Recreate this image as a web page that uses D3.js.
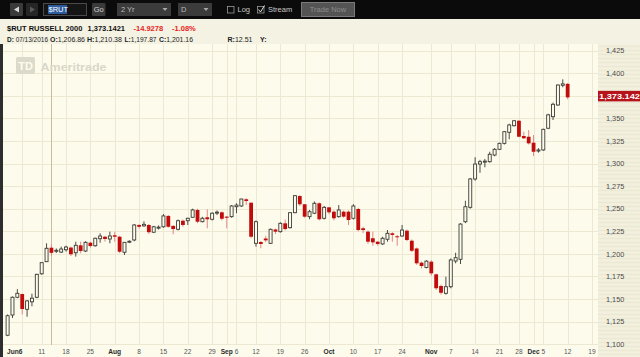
<!DOCTYPE html>
<html>
<head>
<meta charset="utf-8">
<script src="https://cdn.jsdelivr.net/npm/d3@7"></script>
<style>
  html, body { margin: 0; padding: 0; background: #0b0b0b; overflow: hidden; }
  svg { display: block; font-family: "Liberation Sans", Arial, sans-serif; }
</style>
</head>
<body>
<svg id="chart" width="640" height="357"></svg>
<script>
// $RUT daily candles, 2016-06-29 .. 2016-12-12
const dates = [
  "06-29","06-30","07-01","07-05","07-06","07-07","07-08",
  "07-11","07-12","07-13","07-14","07-15","07-18","07-19","07-20","07-21","07-22",
  "07-25","07-26","07-27","07-28","07-29",
  "08-01","08-02","08-03","08-04","08-05","08-08","08-09","08-10","08-11","08-12",
  "08-15","08-16","08-17","08-18","08-19","08-22","08-23","08-24","08-25","08-26",
  "08-29","08-30","08-31",
  "09-01","09-02","09-06","09-07","09-08","09-09","09-12","09-13","09-14","09-15","09-16",
  "09-19","09-20","09-21","09-22","09-23","09-26","09-27","09-28","09-29","09-30",
  "10-03","10-04","10-05","10-06","10-07","10-10","10-11","10-12","10-13","10-14",
  "10-17","10-18","10-19","10-20","10-21","10-24","10-25","10-26","10-27","10-28","10-31",
  "11-01","11-02","11-03","11-04","11-07","11-08","11-09","11-10","11-11",
  "11-14","11-15","11-16","11-17","11-18","11-21","11-22","11-23","11-25",
  "11-28","11-29","11-30",
  "12-01","12-02","12-05","12-06","12-07","12-08","12-09","12-12"
];
const open = [
  1110,1132.4,1152,1155.6,1138.7,1147,1152,
  1178,1191.4,1206.86,1203,1202,1204.6,1207,1201.3,1209.5,1203.2,
  1212.4,1209,1216.8,1219,1216.5,
  1220.6,1219,1201.8,1213,1215.4,1232,1231,1232,1224,1229,
  1230,1242,1231,1227.2,1236.7,1236.7,1240.5,1248.6,1235.6,1240.5,
  1238.3,1245.8,1246,
  1241.2,1241.2,1252.2,1253,1260.4,1256.6,1211.7,1213.2,1217,1211.7,1227,
  1224.6,1233.8,1229,1245.6,1264,1254.9,1241.2,1245,1256,1239.4,
  1251.5,1246.7,1241.2,1246.7,1246.7,1239.4,1249.7,1228.3,1224.6,1217.3,
  1213.5,1211,1216.2,1222.8,1219.5,1219.8,1225.7,1214.6,1206,1190.3,1185,
  1191.4,1177.4,1164.5,1156.4,1163.7,1192.1,1194,1235.6,1251.5,
  1282.9,1299.4,1301.7,1302,1309.4,1315.7,1322.3,1334.5,1341.8,
  1347.3,1330.4,1329.6,
  1323,1313.8,1315,1339,1351.8,1364.7,1386.5,1388.1
];
const high = [
  1133,1153,1161,1156,1149,1156,1178,
  1191,1211.7,1210.38,1206,1208,1209,1208,1213.5,1213.5,1214,
  1213.5,1218,1222.8,1220,1224.6,
  1224.6,1220,1213,1215,1233,1233,1236,1233,1231,1231.5,
  1244,1243,1231.5,1238,1238,1240,1250,1250,1241,1249.3,
  1246,1248,1247,
  1242,1254,1256,1261,1261.5,1257,1237,1214,1220,1228,1228,
  1235,1238,1246,1265,1265,1255,1248.6,1258,1257,1253,
  1252,1248,1254,1248,1248,1255,1251,1230,1226,1224.6,
  1214,1219,1226.4,1224,1221,1232,1227,1216,1207,1191.5,1193,
  1193,1178,1166,1174.8,1195,1201.3,1234,1258.8,1284,
  1306.9,1304,1305,1313,1317,1323,1336,1344,1348,
  1348,1335.2,1337,
  1331.5,1317,1338.5,1355,1367.3,1387.5,1393.1,1389
];
const low = [
  1109,1129,1151,1133,1130.5,1142,1151,
  1177,1191,1197.87,1201,1201,1202.5,1197.7,1197,1200.7,1202,
  1207,1208,1212.4,1213.5,1211.7,
  1213.5,1201,1198.8,1212,1214,1228,1230,1222,1223,1227,
  1229,1229,1221.7,1226,1230,1232,1240,1234,1235,1228.3,
  1237,1243,1237,
  1228.3,1240,1245,1252,1254,1217.5,1208,1206.2,1213,1211,1222,
  1223.5,1226,1228,1245,1253,1240,1238.3,1244,1237,1238,
  1244,1237,1240,1240,1232,1238,1225,1223,1211,1209,
  1209,1210,1213.5,1213.5,1209,1219,1214,1202,1188,1184,1184,
  1176,1160,1155,1155,1162,1189.6,1188.8,1234,1250,
  1281,1289.8,1295.8,1301,1308,1315,1321,1326.8,1341,
  1329,1327,1321,
  1308.3,1312,1314,1338,1348.1,1364,1384.3,1371
];
const close = [
  1131.6,1152,1156.4,1139,1148,1151,1177.4,
  1190.3,1206.2,1201.16,1204,1205.4,1207.6,1199.6,1209.5,1203.2,1212.8,
  1208.7,1217.3,1219.8,1216.5,1219.8,
  1219,1202.4,1212.8,1214,1232,1230,1232.7,1224,1230,1229.6,
  1242,1230,1227.5,1236.7,1232,1239.4,1248.6,1235.6,1239.4,1238.3,
  1245,1246.2,1238.9,
  1240,1253,1254,1260.7,1258.5,1219,1235.6,1211,1215,1227.2,1224.6,
  1233.8,1227.5,1245.6,1264.4,1254.9,1241.2,1246.7,1256,1238.3,1251.5,
  1246,1239.4,1248.6,1241.2,1237.5,1253,1226.4,1226.4,1213.5,1212.8,
  1211,1217.3,1222.8,1221,1218.5,1226.4,1215.4,1203.5,1189.6,1186.6,1192,
  1178.5,1162,1157,1163.7,1193.3,1195.8,1233,1252.2,1282.9,
  1299.4,1302,1302.6,1310.2,1315.7,1322.3,1335.2,1342.6,1347.3,
  1329.6,1327.9,1322.3,
  1313,1315,1337.8,1353.8,1365.5,1386.8,1388.07,1373.1421
];

// price axis ticks
const yTicks = [1100,1125,1150,1175,1200,1225,1250,1275,1300,1325,1350,1375,1400,1425];
// vertical grid lines (candle index, 120 = Dec 19 beyond last bar)
const gridIdx = [3,7,12,17,22,27,32,37,42,45,47,51,56,61,66,71,76,81,87,91,96,101,105,108,110,115,120];
// date labels
const labelIdx  = [0,7,12,17,22,27,32,37,42,45,47,51,56,61,66,71,76,81,87,91,96,101,105,108,110,115,120];
const labelText = ["Jun6","11","18","25","Aug","8","15","22","29","Sep","6","12","19","26",
                   "Oct","10","17","24","Nov","7","14","21","28","Dec","5","12","19"];
const crossIdx = 9; // 07/13/2016

const svg = d3.select("#chart");
const W = 640, H = 357;
const plot = { left: 3, right: 598, top: 44, bottom: 345 };

const x = d3.scaleLinear().domain([0, 120]).range([7.6, 592]);
const y = d3.scaleLinear().domain([1100, 1425]).range([344.3, 50.5]);

// ---------- toolbar ----------
svg.append("rect").attr("width", W).attr("height", 19).attr("fill", "#0b0b0b");
const tb = svg.append("g").attr("font-size", 7.5);
tb.append("rect").attr("x", 10).attr("y", 3).attr("width", 13).attr("height", 13).attr("rx", 1).attr("fill", "#3a3a3a");
tb.append("path").attr("d", "M14,9.5 L19,6.5 L19,12.5 Z").attr("fill", "#d8d8d8");
tb.append("rect").attr("x", 26).attr("y", 3).attr("width", 12).attr("height", 13).attr("rx", 1).attr("fill", "#262626");
tb.append("path").attr("d", "M35,9.5 L30,6.5 L30,12.5 Z").attr("fill", "#5a5a5a");
tb.append("rect").attr("x", 43.5).attr("y", 3.5).attr("width", 43).attr("height", 12).attr("fill", "#151515").attr("stroke", "#4a4a4a");
tb.append("rect").attr("x", 48).attr("y", 5).attr("width", 19).attr("height", 9).attr("fill", "#2d5c9e");
tb.append("text").attr("x", 48.5).attr("y", 12.3).attr("fill", "#fff").text("$RUT");
tb.append("rect").attr("x", 92).attr("y", 3).attr("width", 13.5).attr("height", 13).attr("rx", 1).attr("fill", "#3a3a3a");
tb.append("text").attr("x", 98.8).attr("y", 12.3).attr("text-anchor", "middle").attr("fill", "#d0d0d0").text("Go");
tb.append("rect").attr("x", 117).attr("y", 3).attr("width", 54).attr("height", 13).attr("fill", "#3b3b3b");
tb.append("text").attr("x", 121).attr("y", 12.3).attr("fill", "#bdbdbd").text("2 Yr");
tb.append("path").attr("d", "M162.5,8 L167.5,8 L165,11 Z").attr("fill", "#a8a8a8");
tb.append("rect").attr("x", 178).attr("y", 3).attr("width", 34).attr("height", 13).attr("fill", "#3b3b3b");
tb.append("text").attr("x", 181).attr("y", 12.3).attr("fill", "#bdbdbd").text("D");
tb.append("path").attr("d", "M203.5,8 L208.5,8 L206,11 Z").attr("fill", "#a8a8a8");
tb.append("rect").attr("x", 227.5).attr("y", 6.5).attr("width", 6.5).attr("height", 6.5).attr("fill", "#0b0b0b").attr("stroke", "#9a9a9a").attr("stroke-width", 0.8);
tb.append("text").attr("x", 237.5).attr("y", 12.3).attr("fill", "#c8c8c8").text("Log");
tb.append("rect").attr("x", 257.5).attr("y", 6.5).attr("width", 6.5).attr("height", 6.5).attr("fill", "#0b0b0b").attr("stroke", "#9a9a9a").attr("stroke-width", 0.8);
tb.append("path").attr("d", "M258.5,9.5 L260.5,12 L264.5,5.5").attr("fill", "none").attr("stroke", "#e0e0e0").attr("stroke-width", 1);
tb.append("text").attr("x", 268).attr("y", 12.3).attr("fill", "#c8c8c8").text("Stream");
tb.append("rect").attr("x", 301.5).attr("y", 2.5).attr("width", 53).attr("height", 14).attr("fill", "#545454").attr("stroke", "#7a7a7a");
tb.append("text").attr("x", 328).attr("y", 12.3).attr("text-anchor", "middle").attr("fill", "#8c8c8c").text("Trade Now");

// ---------- quote header ----------
svg.append("rect").attr("y", 19).attr("width", W).attr("height", 25).attr("fill", "#f4f2e2");
const hd = svg.append("g").attr("font-size", 7.5);
const l1 = hd.append("g").attr("font-weight", "bold");
l1.append("text").attr("x", 7).attr("y", 31).attr("fill", "#111").text("$RUT RUSSELL 2000");
l1.append("text").attr("x", 87.5).attr("y", 31).attr("fill", "#111").text("1,373.1421");
l1.append("text").attr("x", 133.5).attr("y", 31).attr("fill", "#e81c1c").text("-14.9278");
l1.append("text").attr("x", 172).attr("y", 31).attr("fill", "#e81c1c").text("-1.08%");
// [label, value, x, width]
const l2 = [["D: ", "07/13/2016", 7, 41], ["O:", "1,206.86", 50, 35], ["H:", "1,210.38", 87, 35],
            ["L:", "1,197.87", 124.5, 32], ["C:", "1,201.16", 159, 34], ["R:", "12.51", 227.5, 25], ["Y:", "", 260, 0]];
l2.forEach(([k, v, px, w]) => {
  const t = hd.append("text").attr("x", px).attr("y", 42.3).attr("fill", "#222").attr("font-size", 7);
  if (w) t.attr("textLength", w).attr("lengthAdjust", "spacingAndGlyphs");
  t.append("tspan").attr("font-weight", "bold").text(k);
  t.append("tspan").text(v);
});

// ---------- plot & axis backgrounds ----------
svg.append("rect").attr("x", 0).attr("y", plot.top).attr("width", plot.right).attr("height", H - plot.top).attr("fill", "#fdfcec");
svg.append("rect").attr("x", 0).attr("y", plot.top).attr("width", 3).attr("height", H - plot.top).attr("fill", "#2e2e2e");
svg.append("rect").attr("x", plot.right).attr("y", plot.top).attr("width", W - plot.right).attr("height", H - plot.top).attr("fill", "#f3f0df");
svg.append("g").selectAll("line")
  .data(d3.range(plot.top + 2, H, 4))
  .join("line")
  .attr("x1", plot.right).attr("x2", W)
  .attr("y1", d => d + 0.5).attr("y2", d => d + 0.5)
  .attr("stroke", "#ebe8d4").attr("stroke-width", 1.5);

// grid
const grid = svg.append("g").attr("stroke", "#ece8d2").attr("stroke-width", 1);
grid.selectAll(".h").data(yTicks).join("line").attr("class", "h")
  .attr("x1", plot.left).attr("x2", plot.right)
  .attr("y1", d => Math.round(y(d)) + 0.5).attr("y2", d => Math.round(y(d)) + 0.5);
grid.selectAll(".v").data(gridIdx).join("line").attr("class", "v")
  .attr("x1", d => Math.round(x(d)) + 0.5).attr("x2", d => Math.round(x(d)) + 0.5)
  .attr("y1", plot.top).attr("y2", plot.bottom);

// crosshair
svg.append("line")
  .attr("x1", Math.round(x(crossIdx)) + 0.5).attr("x2", Math.round(x(crossIdx)) + 0.5)
  .attr("y1", plot.top).attr("y2", plot.bottom)
  .attr("stroke", "#cbbd9c").attr("stroke-width", 1);

// watermark
const wm = svg.append("g");
wm.append("rect").attr("x", 16).attr("y", 57).attr("width", 19).attr("height", 17).attr("rx", 1.5).attr("fill", "#dcdacb");
wm.append("text").attr("x", 25.5).attr("y", 70).attr("text-anchor", "middle")
  .attr("font-size", 11).attr("font-weight", "bold").attr("fill", "#fdfcec").text("TD");
wm.append("text").attr("x", 40.5).attr("y", 70.5).attr("font-size", 10.5).attr("font-weight", "bold")
  .attr("textLength", 66).attr("lengthAdjust", "spacingAndGlyphs")
  .attr("fill", "#d9d7c8").text("Ameritrade");

// ---------- candles ----------
const bars = dates.map((d, i) => ({ i, o: open[i], h: high[i], l: low[i], c: close[i] }));
const cg = svg.append("g");
bars.forEach(b => {
  const up = b.c >= b.o;
  const cx = x(b.i);
  cg.append("line")
    .attr("x1", cx).attr("x2", cx)
    .attr("y1", y(b.h)).attr("y2", y(b.l))
    .attr("stroke", up ? "#4a4a44" : "#e48686").attr("stroke-width", 1);
  const top = y(Math.max(b.o, b.c));
  const hgt = Math.max(1, Math.abs(y(b.o) - y(b.c)));
  if (up) {
    cg.append("rect")
      .attr("x", cx - 1.5).attr("y", top).attr("width", 3).attr("height", hgt)
      .attr("fill", "#fdfcec").attr("stroke", "#3c3c36").attr("stroke-width", 0.9);
  } else {
    cg.append("rect")
      .attr("x", cx - 1.9).attr("y", top).attr("width", 3.8).attr("height", hgt)
      .attr("fill", "#c20c0c");
  }
});

// ---------- axes text ----------
const last = close[close.length - 1];
svg.append("g").attr("font-size", 7.3).attr("fill", "#4a4a4a")
  .selectAll("text").data(yTicks.filter(d => Math.abs(y(d) - y(last)) > 7)).join("text")
  .attr("x", 606).attr("y", d => y(d) + 2.6)
  .text(d => d3.format(",")(d));

svg.append("rect").attr("x", plot.right).attr("y", y(last) - 6.5).attr("width", W - plot.right).attr("height", 10.5)
  .attr("fill", "#b5141a");
svg.append("text").attr("x", 599).attr("y", y(last) + 1.6)
  .attr("font-size", 8).attr("font-weight", "bold").attr("fill", "#fff")
  .attr("textLength", 41).attr("lengthAdjust", "spacingAndGlyphs")
  .text(d3.format(",.3f")(Math.floor(last * 1000) / 1000));

svg.append("g").attr("font-size", 6.6)
  .selectAll("text").data(labelIdx).join("text")
  .attr("x", (d, k) => k === 0 ? x(d) - 0.6 : x(d))
  .attr("y", 354)
  .attr("text-anchor", (d, k) => k === 0 ? "start" : "middle")
  .attr("font-weight", (d, k) => /^[A-Z]/.test(labelText[k]) ? "bold" : "normal")
  .attr("fill", (d, k) => /^[A-Z]/.test(labelText[k]) ? "#2a2a2a" : "#555")
  .text((d, k) => labelText[k]);
</script>
</body>
</html>
